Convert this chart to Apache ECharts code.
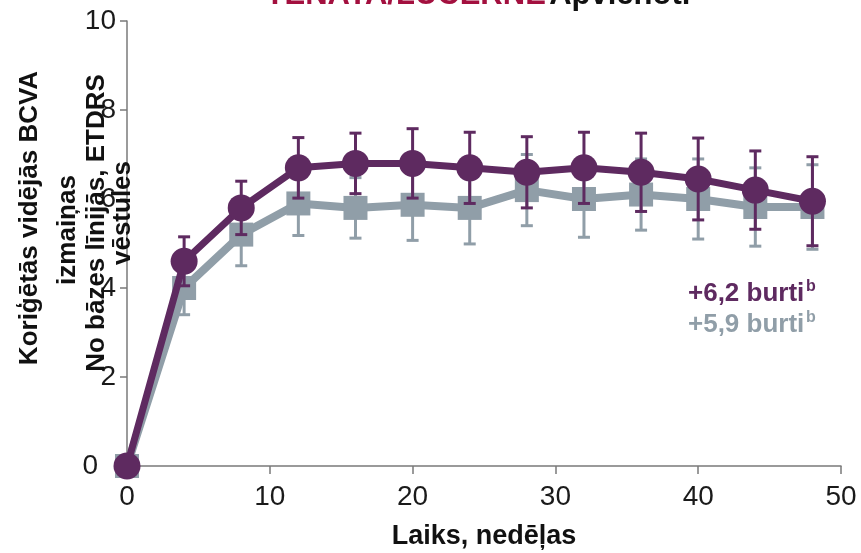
<!DOCTYPE html>
<html>
<head>
<meta charset="utf-8">
<script src="https://cdn.jsdelivr.net/npm/echarts@6/dist/echarts.min.js"></script>
<style>
  html, body { margin: 0; padding: 0; background: #ffffff; }
  #chart { width: 861px; height: 553px; }
</style>
</head>
<body>
<div id="chart"></div>
<script>
// Study weeks
var weeks = [0, 4, 8, 12, 16, 20, 24, 28, 32, 36, 40, 44, 48];

// Faricimab arm: adjusted mean BCVA change and error-bar half width
var purpleMean = [0, 4.6, 5.8, 6.7, 6.8, 6.8, 6.7, 6.6, 6.7, 6.6, 6.45, 6.2, 5.95];
var purpleErr  = [0, 0.55, 0.6, 0.68, 0.68, 0.78, 0.8, 0.8, 0.8, 0.88, 0.92, 0.88, 1.0];

// Aflibercept arm
var greyMean = [0, 4.0, 5.2, 5.9, 5.8, 5.87, 5.8, 6.2, 6.0, 6.1, 6.0, 5.82, 5.82];
var greyErr  = [0, 0.6, 0.7, 0.72, 0.68, 0.8, 0.81, 0.8, 0.86, 0.8, 0.9, 0.88, 0.95];

var yTicks = [0, 2, 4, 6, 8, 10];
var xTicks = [0, 10, 20, 30, 40, 50];

var PURPLE = '#5e2a60';
var GREY = '#909ea8';
var FONT = '"Liberation Sans", Arial, sans-serif';

function pairs(means) {
  return weeks.map(function (w, i) { return [w, means[i]]; });
}
function bars(means, errs) {
  var out = [];
  weeks.forEach(function (w, i) {
    if (errs[i] > 0) out.push([w, means[i] - errs[i], means[i] + errs[i]]);
  });
  return out;
}
function errorRenderer(color) {
  return function (params, api) {
    var x = api.value(0);
    var lo = api.coord([x, api.value(1)]);
    var hi = api.coord([x, api.value(2)]);
    var h = 6;
    var st = { stroke: color, lineWidth: 3 };
    return {
      type: 'group',
      children: [
        { type: 'line', shape: { x1: lo[0], y1: lo[1], x2: hi[0], y2: hi[1] }, style: st },
        { type: 'line', shape: { x1: hi[0] - h, y1: hi[1], x2: hi[0] + h, y2: hi[1] }, style: st },
        { type: 'line', shape: { x1: lo[0] - h, y1: lo[1], x2: lo[0] + h, y2: lo[1] }, style: st }
      ]
    };
  };
}

var chart = echarts.init(document.getElementById('chart'), null, { renderer: 'canvas' });

var yTitleFont = 'bold 26px ' + FONT;

chart.setOption({
  animation: false,
  backgroundColor: '#ffffff',
  grid: { left: 127, right: 20, top: 21, bottom: 87, containLabel: false, outerBoundsMode: 'none' },
  xAxis: {
    type: 'value',
    min: xTicks[0], max: xTicks[xTicks.length - 1], interval: 10,
    name: 'Laiks, nedēļas',
    nameLocation: 'middle',
    nameGap: 57,
    nameTextStyle: { fontFamily: FONT, fontWeight: 'bold', fontSize: 27, color: '#111' },
    axisLine: { lineStyle: { color: '#7a7a7a', width: 1.5 } },
    axisTick: { show: true, inside: false, length: 8, lineStyle: { color: '#7a7a7a', width: 1.5 } },
    axisLabel: { fontFamily: FONT, fontSize: 28, color: '#1a1a1a', margin: 17 },
    splitLine: { show: false }
  },
  yAxis: {
    type: 'value',
    min: yTicks[0], max: yTicks[yTicks.length - 1], interval: 2,
    axisLine: { show: true, lineStyle: { color: '#7a7a7a', width: 1.5 } },
    axisTick: { show: true, inside: false, length: 7, lineStyle: { color: '#7a7a7a', width: 1.5 } },
    axisLabel: {
      fontFamily: FONT, fontSize: 28, color: '#1a1a1a', margin: 11,
      formatter: function (v) { return v === 0 ? '{z|0}' : String(v); },
      rich: { z: { fontFamily: FONT, fontSize: 28, color: '#1a1a1a', padding: [0, 18, 0, 0] } }
    },
    splitLine: { show: false }
  },
  series: [
    {
      name: 'greyErr', type: 'custom', z: 2, clip: false,
      renderItem: errorRenderer(GREY),
      data: bars(greyMean, greyErr)
    },
    {
      name: 'grey', type: 'line', z: 3, clip: false,
      data: pairs(greyMean),
      symbol: 'rect', symbolSize: 24,
      itemStyle: { color: GREY },
      lineStyle: { color: GREY, width: 8 }
    },
    {
      name: 'purpleErr', type: 'custom', z: 4, clip: false,
      renderItem: errorRenderer(PURPLE),
      data: bars(purpleMean, purpleErr)
    },
    {
      name: 'purple', type: 'line', z: 5, clip: false,
      data: pairs(purpleMean),
      symbol: 'circle', symbolSize: 27,
      itemStyle: { color: PURPLE },
      lineStyle: { color: PURPLE, width: 7 }
    }
  ],
  graphic: [
    {
      type: 'text', x: 478, y: -5, z: 100,
      style: {
        text: '{a|TENAYA/LUCERNE} {b|Apvienoti}',
        align: 'center', verticalAlign: 'middle',
        rich: {
          a: { font: 'bold 31px ' + FONT, fill: '#a3103f' },
          b: { font: 'bold 31px ' + FONT, fill: '#111' }
        }
      }
    },
    { type: 'text', x: 30, y: 218, rotation: Math.PI / 2, z: 100,
      style: { text: 'Koriģētās vidējās BCVA', font: yTitleFont, fill: '#111', align: 'center', verticalAlign: 'middle' } },
    { type: 'text', x: 68, y: 230, rotation: Math.PI / 2, z: 100,
      style: { text: 'izmaiņas', font: yTitleFont, fill: '#111', align: 'center', verticalAlign: 'middle' } },
    { type: 'text', x: 97, y: 223, rotation: Math.PI / 2, z: 100,
      style: { text: 'No bāzes līnijās, ETDRS', font: yTitleFont, fill: '#111', align: 'center', verticalAlign: 'middle' } },
    { type: 'text', x: 123, y: 213, rotation: Math.PI / 2, z: 100,
      style: { text: 'vēstules', font: yTitleFont, fill: '#111', align: 'center', verticalAlign: 'middle' } },
    { type: 'text', x: 688, y: 294, z: 100,
      style: { text: '+6,2 burti', font: 'bold 26px ' + FONT, fill: PURPLE, align: 'left', verticalAlign: 'middle' } },
    { type: 'text', x: 806, y: 287, z: 100,
      style: { text: 'b', font: 'bold 16px ' + FONT, fill: PURPLE, align: 'left', verticalAlign: 'middle' } },
    { type: 'text', x: 688, y: 325, z: 100,
      style: { text: '+5,9 burti', font: 'bold 26px ' + FONT, fill: GREY, align: 'left', verticalAlign: 'middle' } },
    { type: 'text', x: 806, y: 318, z: 100,
      style: { text: 'b', font: 'bold 16px ' + FONT, fill: GREY, align: 'left', verticalAlign: 'middle' } }
  ]
});
</script>
</body>
</html>
